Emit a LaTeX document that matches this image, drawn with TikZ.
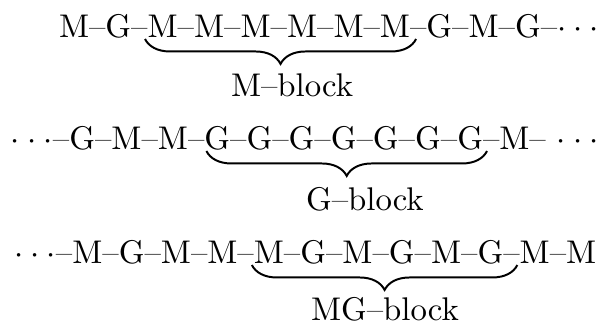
\documentclass[tikz,border=0pt]{standalone}
\usetikzlibrary{decorations.pathreplacing}
\newcommand{\dotrun}{$\cdot\cdot\cdot$}
\tikzset{
  seq/.style={inner sep=0pt, outer sep=0pt, anchor=base west},
  blocklabel/.style={inner sep=0pt, outer sep=0pt, anchor=base west},
  underbrace/.style={decorate, decoration={brace, mirror, amplitude=7.6pt},
                     line width=0.6pt},
}
\begin{document}
\begin{tikzpicture}[x=0.3049pt,y=-0.3049pt]
  \useasboundingbox (0,0) rectangle (604,334);

  % first chain: M-block
  \node[seq] (a1) at (59,37) {M--G--};
  \node[seq] (b1) at (a1.base east) {M--M--M--M--M--M};
  \node[seq] (c1) at (b1.base east) {--G--M--G--\dotrun};
  \coordinate (s1) at ([shift={(-2.6,2)}]b1.base west);
  \coordinate (e1) at ([shift={(6,2)}]b1.base east);
  \draw[underbrace] (s1) -- (e1);
  \node[blocklabel] (l1) at (231,96) {M--block};

  % second chain: G-block
  \node[seq] (a2) at (11,149) {\dotrun--G--M--M--};
  \node[seq] (b2) at (a2.base east) {G--G--G--G--G--G--G};
  \node[seq] (c2) at (b2.base east) {--M-- \dotrun};
  \coordinate (s2) at ([shift={(2,2)}]b2.base west);
  \coordinate (e2) at ([shift={(4,2)}]b2.base east);
  \draw[underbrace] (s2) -- (e2);
  \node[blocklabel] (l2) at (306,210) {G--block};

  % third chain: MG-block
  \node[seq] (a3) at (14,263) {\dotrun--M--G--M--M--};
  \node[seq] (b3) at (a3.base east) {M--G--M--G--M--G};
  \node[seq] (c3) at (b3.base east) {--M--M};
  \coordinate (s3) at ([shift={(-2,2)}]b3.base west);
  \coordinate (e3) at ([shift={(14,2)}]b3.base east);
  \draw[underbrace] (s3) -- (e3);
  \node[blocklabel] (l3) at (311,320) {MG--block};
\end{tikzpicture}
\end{document}
